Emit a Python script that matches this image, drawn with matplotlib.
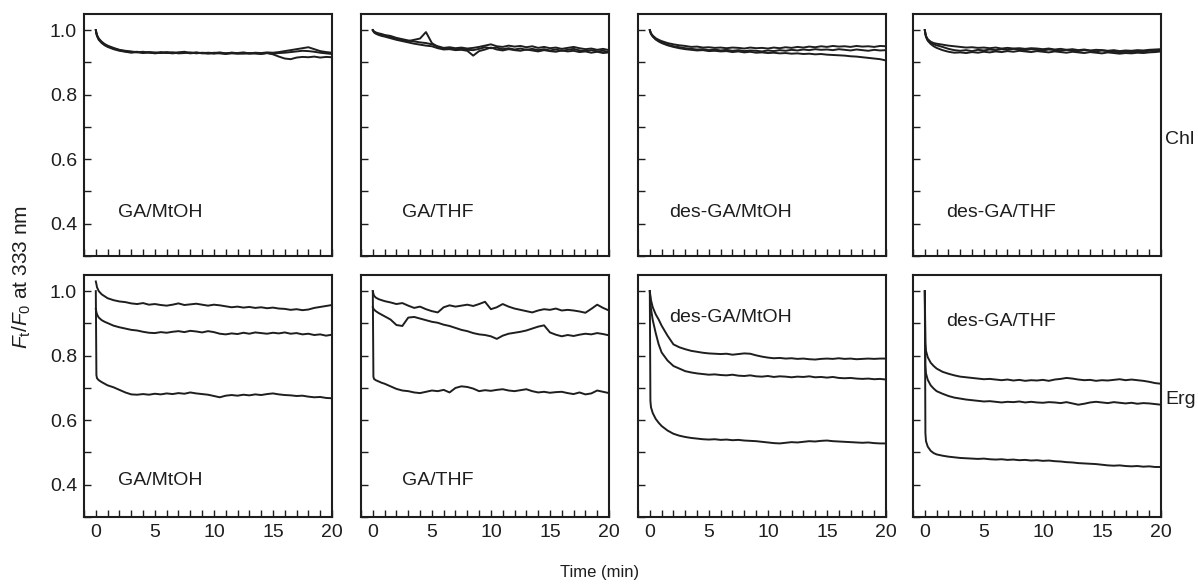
import numpy as np
import matplotlib
matplotlib.use("Agg")
import matplotlib.pyplot as plt
from matplotlib.ticker import MultipleLocator

plt.rcParams['font.family'] = ['Liberation Sans', 'DejaVu Sans']
plt.rcParams['mathtext.fontset'] = 'custom'
plt.rcParams['mathtext.rm'] = 'Liberation Sans'
plt.rcParams['mathtext.it'] = 'Liberation Sans:italic'

# time axis (min)
time = [0, 0.05, 0.1, 0.25, 0.5, 0.75, 1.0, 1.5, 2.0, 2.5, 3.0, 3.5, 4.0, 4.5, 5.0,
        5.5, 6.0, 6.5, 7.0, 7.5, 8.0, 8.5, 9.0, 9.5, 10.0,
        10.5, 11.0, 11.5, 12.0, 12.5, 13.0, 13.5, 14.0, 14.5, 15.0,
        15.5, 16.0, 16.5, 17.0, 17.5, 18.0, 18.5, 19.0, 19.5, 20.0]

panel_names = ['GA/MtOH', 'GA/THF', 'des-GA/MtOH', 'des-GA/THF']
row_names = ['Chl', 'Erg']

# ---- Chl row (top) ----
chl_ga_mtoh = [
    [1.000, 0.990, 0.983, 0.972, 0.962, 0.955, 0.950, 0.943, 0.938, 0.934, 0.932, 0.933, 0.930, 0.932, 0.931,
     0.929, 0.932, 0.930, 0.931, 0.933, 0.929, 0.931, 0.928, 0.930, 0.929,
     0.931, 0.928, 0.930, 0.929, 0.931, 0.928, 0.930, 0.929, 0.931, 0.930,
     0.932, 0.935, 0.938, 0.941, 0.944, 0.947, 0.941, 0.935, 0.932, 0.930],
    [1.000, 0.992, 0.985, 0.974, 0.964, 0.957, 0.952, 0.945, 0.939, 0.936, 0.934, 0.931, 0.933, 0.930, 0.929,
     0.932, 0.930, 0.928, 0.930, 0.931, 0.928, 0.930, 0.929, 0.927, 0.930,
     0.928, 0.926, 0.928, 0.927, 0.929, 0.927, 0.928, 0.926, 0.929, 0.927,
     0.929, 0.930, 0.932, 0.934, 0.936, 0.935, 0.933, 0.930, 0.928, 0.926],
    [1.000, 0.989, 0.982, 0.970, 0.960, 0.953, 0.948, 0.941, 0.936, 0.933, 0.930, 0.932, 0.929, 0.931, 0.928,
     0.930, 0.929, 0.931, 0.928, 0.929, 0.931, 0.928, 0.930, 0.929, 0.927,
     0.929, 0.928, 0.930, 0.928, 0.927, 0.929, 0.928, 0.927, 0.929, 0.925,
     0.918, 0.912, 0.910, 0.915, 0.917, 0.916, 0.918, 0.915, 0.917, 0.916],
]
chl_ga_thf = [
    [1.000, 0.998, 0.996, 0.993, 0.990, 0.988, 0.985, 0.982, 0.976, 0.972, 0.968, 0.965, 0.962, 0.960, 0.956,
     0.950, 0.945, 0.947, 0.944, 0.946, 0.943, 0.945, 0.948, 0.952, 0.956,
     0.950, 0.948, 0.952, 0.949, 0.951, 0.947, 0.950, 0.945, 0.948, 0.944,
     0.946, 0.942, 0.945, 0.948, 0.944, 0.941, 0.943, 0.939, 0.942, 0.938],
    [1.000, 0.997, 0.995, 0.991, 0.987, 0.985, 0.983, 0.978, 0.974, 0.969, 0.966, 0.970, 0.974, 0.994, 0.960,
     0.948, 0.942, 0.944, 0.940, 0.943, 0.939, 0.938, 0.942, 0.947, 0.944,
     0.946, 0.941, 0.944, 0.940, 0.943, 0.939, 0.942, 0.938, 0.941, 0.937,
     0.940, 0.936, 0.939, 0.942, 0.937, 0.935, 0.938, 0.934, 0.936, 0.932],
    [1.000, 0.996, 0.993, 0.989, 0.985, 0.982, 0.980, 0.975, 0.970, 0.966, 0.962, 0.958, 0.955, 0.952, 0.950,
     0.944, 0.940, 0.941, 0.938, 0.939, 0.936, 0.921, 0.935, 0.940, 0.946,
     0.940, 0.937, 0.941, 0.938, 0.936, 0.940, 0.937, 0.934, 0.938, 0.935,
     0.933, 0.937, 0.934, 0.936, 0.932, 0.934, 0.930, 0.933, 0.929, 0.931],
]
chl_des_mtoh = [
    [1.000, 0.995, 0.990, 0.983, 0.975, 0.970, 0.966, 0.960, 0.956, 0.953, 0.951, 0.948, 0.949, 0.946, 0.947,
     0.945, 0.946, 0.944, 0.946, 0.945, 0.943, 0.946, 0.944, 0.945, 0.943,
     0.946, 0.944, 0.947, 0.945, 0.948, 0.946, 0.949, 0.947, 0.950, 0.948,
     0.951, 0.949, 0.950, 0.948, 0.951, 0.949, 0.950, 0.948, 0.951, 0.950],
    [1.000, 0.994, 0.989, 0.981, 0.972, 0.966, 0.962, 0.955, 0.950, 0.947, 0.944, 0.942, 0.940, 0.941, 0.938,
     0.940, 0.937, 0.939, 0.936, 0.938, 0.935, 0.937, 0.936, 0.934, 0.937,
     0.935, 0.938, 0.936, 0.939, 0.937, 0.940, 0.938, 0.941, 0.939, 0.940,
     0.938, 0.941, 0.939, 0.937, 0.940, 0.938, 0.936, 0.939, 0.937, 0.938],
    [1.000, 0.994, 0.988, 0.980, 0.971, 0.965, 0.960, 0.953, 0.948, 0.944, 0.941, 0.939, 0.937, 0.938, 0.935,
     0.936, 0.934, 0.935, 0.932, 0.934, 0.931, 0.933, 0.930, 0.931, 0.929,
     0.930, 0.928, 0.929, 0.927, 0.928, 0.926, 0.927, 0.925, 0.926, 0.924,
     0.923, 0.922, 0.921, 0.919, 0.918, 0.916, 0.914, 0.912, 0.910, 0.906],
]
chl_des_thf = [
    [1.000, 0.990, 0.982, 0.972, 0.964, 0.960, 0.958, 0.955, 0.952, 0.950, 0.948, 0.946, 0.947, 0.945, 0.946,
     0.944, 0.946, 0.943, 0.945, 0.943, 0.944, 0.942, 0.944, 0.943, 0.941,
     0.943, 0.940, 0.942, 0.939, 0.941, 0.938, 0.940, 0.937, 0.939, 0.938,
     0.936, 0.938, 0.935, 0.937, 0.936, 0.938, 0.937, 0.939, 0.940, 0.941],
    [1.000, 0.989, 0.980, 0.969, 0.961, 0.956, 0.953, 0.948, 0.942, 0.938, 0.936, 0.938, 0.935, 0.939, 0.937,
     0.940, 0.938, 0.941, 0.939, 0.942, 0.940, 0.938, 0.941, 0.939, 0.937,
     0.940, 0.938, 0.936, 0.939, 0.937, 0.935, 0.938, 0.936, 0.934, 0.937,
     0.935, 0.933, 0.931, 0.933, 0.932, 0.934, 0.933, 0.936, 0.935, 0.938],
    [1.000, 0.988, 0.979, 0.967, 0.957, 0.950, 0.945, 0.938, 0.933, 0.930, 0.931, 0.929, 0.932, 0.930, 0.933,
     0.931, 0.934, 0.932, 0.935, 0.933, 0.936, 0.934, 0.932, 0.935, 0.933,
     0.931, 0.934, 0.932, 0.930, 0.933, 0.931, 0.929, 0.932, 0.930, 0.928,
     0.931, 0.929, 0.927, 0.929, 0.928, 0.930, 0.929, 0.931, 0.932, 0.934],
]

# ---- Erg row (bottom) ----
erg_ga_mtoh = [
    [1.030, 1.022, 1.012, 1.000, 0.990, 0.984, 0.978, 0.972, 0.968, 0.966, 0.962, 0.960, 0.963, 0.958, 0.960,
     0.957, 0.955, 0.958, 0.962, 0.957, 0.959, 0.961, 0.958, 0.955, 0.958,
     0.956, 0.953, 0.950, 0.952, 0.949, 0.951, 0.948, 0.950, 0.947, 0.949,
     0.946, 0.945, 0.942, 0.944, 0.941, 0.943, 0.948, 0.951, 0.954, 0.957],
    [0.945, 0.935, 0.928, 0.918, 0.910, 0.905, 0.901, 0.893, 0.888, 0.884, 0.880, 0.878, 0.874, 0.871, 0.870,
     0.873, 0.871, 0.874, 0.876, 0.873, 0.877, 0.875, 0.872, 0.876, 0.873,
     0.868, 0.866, 0.869, 0.867, 0.871, 0.868, 0.872, 0.870, 0.868, 0.871,
     0.869, 0.872, 0.868, 0.870, 0.866, 0.868, 0.864, 0.866, 0.862, 0.865],
    [1.000, 0.740, 0.730, 0.724, 0.718, 0.713, 0.708, 0.702, 0.694, 0.686, 0.680, 0.679, 0.681, 0.679, 0.682,
     0.680, 0.683, 0.681, 0.684, 0.682, 0.686, 0.683, 0.681, 0.679, 0.675,
     0.671, 0.676, 0.678, 0.676, 0.679, 0.677, 0.680, 0.678, 0.681, 0.683,
     0.680, 0.678, 0.677, 0.675, 0.676, 0.673, 0.671, 0.672, 0.669, 0.668],
]
erg_ga_thf = [
    [1.000, 0.992, 0.986, 0.980, 0.975, 0.972, 0.969, 0.965, 0.960, 0.963, 0.955, 0.948, 0.952, 0.944, 0.938,
     0.934, 0.950, 0.956, 0.952, 0.955, 0.958, 0.954, 0.960, 0.967, 0.944,
     0.950, 0.960, 0.952, 0.946, 0.942, 0.938, 0.934, 0.940, 0.944, 0.942,
     0.946, 0.940, 0.942, 0.940, 0.937, 0.933, 0.945, 0.958, 0.948, 0.940],
    [0.950, 0.946, 0.943, 0.938, 0.932, 0.927, 0.922, 0.912, 0.895, 0.892, 0.918, 0.920, 0.915, 0.910, 0.905,
     0.902, 0.896, 0.892, 0.886, 0.880, 0.876, 0.870, 0.866, 0.864, 0.860,
     0.852, 0.862, 0.868, 0.871, 0.874, 0.878, 0.884, 0.890, 0.894, 0.872,
     0.865, 0.860, 0.864, 0.861, 0.865, 0.868, 0.866, 0.870, 0.867, 0.863],
    [1.000, 0.735, 0.728, 0.724, 0.720, 0.716, 0.713, 0.705, 0.697, 0.692, 0.690, 0.686, 0.684, 0.688, 0.692,
     0.690, 0.694, 0.686, 0.700, 0.705, 0.703, 0.698, 0.690, 0.693, 0.691,
     0.694, 0.696, 0.692, 0.690, 0.693, 0.696, 0.690, 0.686, 0.688, 0.685,
     0.687, 0.688, 0.684, 0.681, 0.686, 0.680, 0.683, 0.692, 0.688, 0.684],
]
erg_des_mtoh = [
    [1.000, 0.985, 0.972, 0.950, 0.928, 0.912, 0.893, 0.862, 0.835, 0.826, 0.820, 0.815, 0.812, 0.809, 0.807,
     0.806, 0.805, 0.806, 0.803, 0.805, 0.807, 0.806, 0.801, 0.797, 0.794,
     0.792, 0.793, 0.791, 0.792, 0.790, 0.791, 0.789, 0.788, 0.790, 0.791,
     0.790, 0.792, 0.790, 0.791, 0.789, 0.790, 0.791, 0.790, 0.791, 0.791],
    [1.000, 0.970, 0.945, 0.910, 0.870, 0.835, 0.810, 0.785, 0.768, 0.760, 0.752, 0.748, 0.745, 0.743, 0.741,
     0.742, 0.740, 0.739, 0.741, 0.738, 0.737, 0.739, 0.736, 0.735, 0.737,
     0.734, 0.736, 0.735, 0.733, 0.735, 0.734, 0.736, 0.733, 0.734, 0.732,
     0.734, 0.731, 0.730, 0.731, 0.729, 0.728, 0.729, 0.727, 0.728, 0.726],
    [1.000, 0.660, 0.640, 0.622, 0.604, 0.592, 0.582, 0.568, 0.558, 0.552, 0.548, 0.545, 0.543, 0.541, 0.540,
     0.541, 0.539, 0.540, 0.538, 0.539, 0.537, 0.536, 0.535, 0.533, 0.531,
     0.529, 0.528, 0.530, 0.532, 0.531, 0.533, 0.535, 0.534, 0.536, 0.537,
     0.535, 0.534, 0.533, 0.532, 0.531, 0.530, 0.531, 0.529, 0.528, 0.528],
]
erg_des_thf = [
    [1.000, 0.840, 0.815, 0.795, 0.778, 0.768, 0.760, 0.750, 0.744, 0.739, 0.735, 0.733, 0.731, 0.729, 0.727,
     0.728, 0.726, 0.724, 0.726, 0.723, 0.725, 0.722, 0.724, 0.723, 0.725,
     0.722, 0.726, 0.728, 0.731, 0.729, 0.726, 0.724, 0.725, 0.722, 0.724,
     0.723, 0.725, 0.727, 0.724, 0.726, 0.724, 0.722, 0.719, 0.715, 0.713],
    [1.000, 0.770, 0.745, 0.725, 0.708, 0.698, 0.690, 0.682, 0.675, 0.670, 0.667, 0.664, 0.662, 0.660, 0.658,
     0.659, 0.657, 0.655, 0.657, 0.656, 0.658, 0.655, 0.657, 0.655, 0.654,
     0.656, 0.655, 0.653, 0.656, 0.652, 0.648, 0.651, 0.655, 0.657, 0.655,
     0.653, 0.656, 0.654, 0.652, 0.654, 0.651, 0.653, 0.652, 0.650, 0.648],
    [1.000, 0.560, 0.535, 0.518, 0.505, 0.498, 0.494, 0.490, 0.487, 0.485, 0.483, 0.482, 0.481, 0.480, 0.481,
     0.479, 0.478, 0.479, 0.477, 0.478, 0.476, 0.477, 0.475, 0.476, 0.474,
     0.475, 0.473, 0.472, 0.470, 0.469, 0.467, 0.466, 0.465, 0.464, 0.462,
     0.460, 0.459, 0.460, 0.458, 0.457, 0.458, 0.456, 0.457, 0.455, 0.455],
]

rows = [[chl_ga_mtoh, chl_ga_thf, chl_des_mtoh, chl_des_thf],
        [erg_ga_mtoh, erg_ga_thf, erg_des_mtoh, erg_des_thf]]

# where each panel label sits (data coords)
label_pos = [[(1.9, 0.434), (2.5, 0.434), (1.6, 0.434), (1.8, 0.434)],
             [(1.9, 0.413), (2.5, 0.413), (1.6, 0.918), (1.8, 0.907)]]

W, H = 1198, 584
fig = plt.figure(figsize=(W / 100, H / 100), dpi=100)

col_left = [84, 361, 638, 913]
panel_w = 248
row_top = [14, 275]
panel_h = 242
ink = '#1e1e1e'
fs = 14

for r in range(2):
    for c in range(4):
        x0 = col_left[c] / W
        y0 = 1 - (row_top[r] + panel_h) / H
        ax = fig.add_axes([x0, y0, panel_w / W, panel_h / H])
        for trace in rows[r][c]:
            ax.plot(time, trace, color=ink, lw=1.4)
        ax.set_xlim(-1, 20)
        ax.set_ylim(0.3, 1.05)
        ax.xaxis.set_major_locator(MultipleLocator(5))
        ax.xaxis.set_minor_locator(MultipleLocator(1))
        ax.yaxis.set_major_locator(MultipleLocator(0.2))
        ax.yaxis.set_minor_locator(MultipleLocator(0.1))
        ax.tick_params(which='both', direction='in', length=5, width=1.0,
                       top=False, right=False, labelsize=fs, colors=ink, pad=5)
        for s in ax.spines.values():
            s.set_linewidth(1.5)
            s.set_color(ink)
        if c > 0:
            ax.set_yticklabels([])
        if r == 0:
            ax.set_xticklabels([])
        px, py = label_pos[r][c]
        ax.text(px, py, panel_names[c], fontsize=fs, color=ink, ha='left', va='center')

fig.text(1165 / W, 1 - 140 / H, row_names[0], fontsize=fs, color=ink, ha='left', va='center')
fig.text(1165 / W, 1 - 400 / H, row_names[1], fontsize=fs, color=ink, ha='left', va='center')
fig.text(22 / W, 1 - 277 / H, r'$\mathit{F}_\mathrm{t}/\mathit{F}_0$ at 333 nm', rotation=90,
         fontsize=fs + 1, color=ink, ha='center', va='center')
fig.text(600 / W, 1 - 573 / H, 'Time (min)', fontsize=12, color=ink, ha='center', va='center')

fig.savefig('out.png', dpi=100)
